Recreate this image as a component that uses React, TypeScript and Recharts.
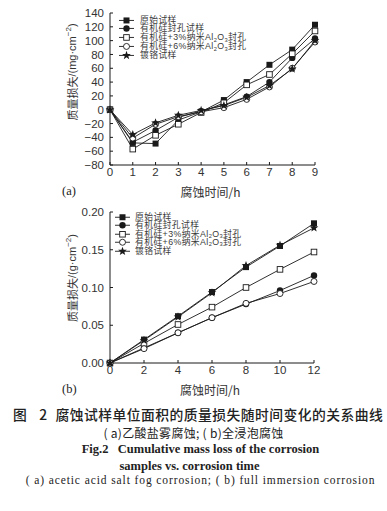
import React from 'react';
import { LineChart, Line, XAxis, YAxis, Legend } from 'recharts';

// ---------- Data ----------
const hoursA = [0, 1, 2, 3, 4, 5, 6, 7, 8, 9];
const originalA = [0, -48, -49, -15, -3, 14, 40, 65, 87, 123];
const siliconeA = [0, -47, -30, -11, -2, 7, 19, 40, 75, 103];
const nano3A = [0, -57, -37, -21, -4, 10, 36, 51, 81, 114];
const nano6A = [0, -41, -21, -10, -3, 3, 15, 33, 60, 98];
const chromeA = [0, -36, -19, -8, -1, 6, 18, 35, 59, 100];
const yTicksA = [-80, -60, -40, -20, 0, 20, 40, 60, 80, 100, 120, 140];

const hoursB = [0, 2, 4, 6, 8, 10, 12];
const originalB = [0, 0.031, 0.062, 0.094, 0.127, 0.155, 0.185];
const siliconeB = [0, 0.02, 0.04, 0.06, 0.078, 0.096, 0.116];
const nano3B = [0, 0.026, 0.051, 0.074, 0.1, 0.124, 0.147];
const nano6B = [0, 0.019, 0.04, 0.06, 0.079, 0.092, 0.108];
const chromeB = [0, 0.03, 0.061, 0.093, 0.129, 0.156, 0.179];
const yTicksB = [0, 0.05, 0.1, 0.15, 0.2];

const seriesNames = ['原始试样', '有机硅封孔试样', '有机硅+3%纳米Al2O3封孔', '有机硅+6%纳米Al2O3封孔', '镀铬试样'];
const seriesKinds = ['fsquare', 'fcircle', 'osquare', 'ocircle', 'star'];
const seriesKeys = ['s0', 's1', 's2', 's3', 's4'];

const dataA = hoursA.map((h, i) => ({
  h,
  s0: originalA[i],
  s1: siliconeA[i],
  s2: nano3A[i],
  s3: nano6A[i],
  s4: chromeA[i],
}));
const dataB = hoursB.map((h, i) => ({
  h,
  s0: originalB[i],
  s1: siliconeB[i],
  s2: nano3B[i],
  s3: nano6B[i],
  s4: chromeB[i],
}));

// ---------- Styling ----------
const INK = '#1a1a1a';
const SANS = '"Liberation Sans", Arial, sans-serif';
const CJK = '"Noto Sans CJK SC", "Liberation Sans", sans-serif';
const LATIN_CJK = '"Liberation Sans", "Noto Sans CJK SC", sans-serif';
const SERIF = '"Liberation Serif", "Times New Roman", serif';

function starPath(cx: number, cy: number, R: number, r: number) {
  let d = '';
  for (let i = 0; i < 10; i++) {
    const a = -Math.PI / 2 + (i * Math.PI) / 5;
    const rad = i % 2 ? r : R;
    d += (i ? 'L' : 'M') + (cx + rad * Math.cos(a)).toFixed(2) + ',' + (cy + rad * Math.sin(a)).toFixed(2);
  }
  return d + 'Z';
}

function Marker({ cx, cy, kind }: { cx: number; cy: number; kind: string }) {
  if (cx == null || cy == null || isNaN(cx) || isNaN(cy)) return null;
  const s = 3;
  switch (kind) {
    case 'fsquare':
      return <rect x={cx - s} y={cy - s} width={2 * s} height={2 * s} fill={INK} />;
    case 'fcircle':
      return <circle cx={cx} cy={cy} r={3.2} fill={INK} />;
    case 'osquare':
      return <rect x={cx - 2.8} y={cy - 2.8} width={5.6} height={5.6} fill="#fff" stroke={INK} strokeWidth={0.9} />;
    case 'ocircle':
      return <circle cx={cx} cy={cy} r={3} fill="#fff" stroke={INK} strokeWidth={0.9} />;
    default:
      return <path d={starPath(cx, cy, 4.6, 1.9)} fill={INK} />;
  }
}

const subStyle: React.CSSProperties = { fontSize: '0.65em', position: 'relative', top: '0.25em', lineHeight: 0 };

function renderName(name: string) {
  const parts = name.split('Al2O3');
  if (parts.length === 1) return name;
  return (
    <>
      {parts[0]}Al<span style={subStyle}>2</span>O<span style={subStyle}>3</span>
      {parts[1]}
    </>
  );
}

function LegendBox({ rowH, gap }: { rowH: number; gap: number }) {
  return (
    <div style={{ display: 'flex', flexDirection: 'column' }}>
      {seriesNames.map((n, i) => (
        <div key={n} style={{ display: 'flex', alignItems: 'center', height: rowH, overflow: 'visible' }}>
          <svg width={15} height={rowH} style={{ display: 'block', overflow: 'visible', flex: 'none' }}>
            <line x1={0} x2={15} y1={rowH / 2} y2={rowH / 2} stroke={INK} strokeWidth={0.9} />
            <Marker cx={7.5} cy={rowH / 2} kind={seriesKinds[i]} />
          </svg>
          <span
            style={{
              marginLeft: gap,
              fontSize: 8.8,
              letterSpacing: 0.4,
              fontFamily: LATIN_CJK,
              color: '#3a3a3a',
              lineHeight: `${rowH}px`,
              height: rowH,
              whiteSpace: 'nowrap',
            }}
          >
            {renderName(n)}
          </span>
        </div>
      ))}
    </div>
  );
}

function YTitle({ cx, cy, unit }: { cx: number; cy: number; unit: string }) {
  return (
    <text
      x={cx}
      y={cy}
      transform={`rotate(-90 ${cx} ${cy})`}
      textAnchor="middle"
      dominantBaseline="central"
      fontSize={11}
      fontFamily={LATIN_CJK}
      fill="#333"
    >
      <tspan fontFamily={CJK}>质量损失</tspan>
      <tspan>/({unit}·cm</tspan>
      <tspan dy={-4} fontSize={8}>
        −2
      </tspan>
      <tspan dy={4}>)</tspan>
    </text>
  );
}

function XTitle({ viewBox, tag, tagX, cy }: any) {
  const { x, width } = viewBox || {};
  return (
    <g>
      <text x={x + width / 2 - 2} y={cy} textAnchor="middle" dominantBaseline="central" fontSize={12} fontFamily={CJK} fill="#333">
        腐蚀时间/h
      </text>
      <text x={tagX} y={cy} textAnchor="start" dominantBaseline="central" fontSize={12.5} fontFamily={SERIF} fill="#222">
        {tag}
      </text>
    </g>
  );
}

function renderLines() {
  return seriesKeys.map((k, i) => (
    <Line
      key={k}
      xAxisId="b"
      yAxisId="l"
      dataKey={k}
      name={seriesNames[i]}
      stroke={INK}
      strokeWidth={0.9}
      isAnimationActive={false}
      dot={(p: any) => <Marker key={`${k}-${p.index}`} cx={p.cx} cy={p.cy} kind={seriesKinds[i]} />}
      activeDot={false}
    />
  ));
}

const tickStyle = { fontSize: 11.5, fontFamily: SANS, fill: '#333' };

export default function App() {
  return (
    <div style={{ position: 'absolute', left: 0, top: 0, width: 387, height: 511, background: '#fff' }}>
      {/* Chart (a) */}
      <div style={{ position: 'absolute', left: 0, top: 0 }}>
        <LineChart width={387} height={200} data={dataA} margin={{ top: 13, right: 72, bottom: 0, left: 0 }}>
          <XAxis
            xAxisId="b"
            dataKey="h"
            type="number"
            domain={[0, 9]}
            ticks={hoursA}
            height={35}
            tickSize={-3}
            tickMargin={6}
            tick={tickStyle}
            axisLine={{ stroke: INK, strokeWidth: 1 }}
            tickLine={{ stroke: INK }}
            label={{ content: (p: any) => <XTitle viewBox={p.viewBox} tag="(a)" tagX={62} cy={191} /> }}
          />
          <XAxis
            xAxisId="t"
            orientation="top"
            type="number"
            domain={[0, 9]}
            height={0}
            tick={false}
            tickLine={false}
            axisLine={{ stroke: '#888', strokeDasharray: '1 1' }}
          />
          <YAxis
            yAxisId="l"
            type="number"
            domain={[-80, 140]}
            ticks={yTicksA}
            width={110}
            tickSize={-3}
            tickMargin={9}
            tick={tickStyle}
            tickFormatter={(v: number) => (v < 0 ? `−${Math.abs(v)}` : `${v}`)}
            axisLine={{ stroke: INK, strokeWidth: 1 }}
            tickLine={{ stroke: INK }}
            interval={0}
            label={{ content: () => <YTitle cx={72} cy={72} unit="mg" /> }}
          />
          <YAxis
            yAxisId="r"
            orientation="right"
            type="number"
            domain={[-80, 140]}
            width={0}
            tick={false}
            tickLine={false}
            axisLine={{ stroke: INK, strokeWidth: 1 }}
          />
          <Legend
            layout="vertical"
            align="center"
            verticalAlign="middle"
            wrapperStyle={{ left: 119, top: 15.5, width: 'auto', height: 'auto' }}
            content={() => <LegendBox rowH={8.9} gap={6} />}
          />
          {renderLines()}
        </LineChart>
      </div>

      {/* Chart (b) */}
      <div style={{ position: 'absolute', left: 0, top: 200 }}>
        <LineChart width={387} height={200} data={dataB} margin={{ top: 12, right: 73, bottom: 0, left: 0 }}>
          <XAxis
            xAxisId="b"
            dataKey="h"
            type="number"
            domain={[0, 12]}
            ticks={hoursB}
            height={37}
            tickSize={-3}
            tickMargin={6}
            tick={tickStyle}
            axisLine={{ stroke: INK, strokeWidth: 1 }}
            tickLine={{ stroke: INK }}
            label={{ content: (p: any) => <XTitle viewBox={p.viewBox} tag="(b)" tagX={62} cy={189} /> }}
          />
          <XAxis
            xAxisId="t"
            orientation="top"
            type="number"
            domain={[0, 12]}
            height={0}
            tick={false}
            tickLine={false}
            axisLine={{ stroke: '#888', strokeDasharray: '1 1' }}
          />
          <YAxis
            yAxisId="l"
            type="number"
            domain={[0, 0.2]}
            ticks={yTicksB}
            width={110}
            tickSize={-3}
            tickMargin={9}
            tick={tickStyle}
            tickFormatter={(v: number) => v.toFixed(2)}
            axisLine={{ stroke: INK, strokeWidth: 1 }}
            tickLine={{ stroke: INK }}
            interval={0}
            label={{ content: () => <YTitle cx={72} cy={78} unit="g" /> }}
          />
          <YAxis
            yAxisId="r"
            orientation="right"
            type="number"
            domain={[0, 0.2]}
            width={0}
            tick={false}
            tickLine={false}
            axisLine={{ stroke: INK, strokeWidth: 1 }}
          />
          <Legend
            layout="vertical"
            align="center"
            verticalAlign="middle"
            wrapperStyle={{ left: 115, top: 12.5, width: 'auto', height: 'auto' }}
            content={() => <LegendBox rowH={8.5} gap={5} />}
          />
          {renderLines()}
        </LineChart>
      </div>

      {/* Caption */}
      <div style={{ position: 'absolute', left: 0, top: 406, width: 387, color: '#222' }}>
        <div style={{ position: 'absolute', left: 13, top: 0, fontFamily: CJK, fontSize: 13.8, lineHeight: '17px', whiteSpace: 'nowrap', letterSpacing: 0.45, fontWeight: 500 }}>
          <span>图</span>
          <span style={{ marginLeft: 12 }}>2</span>
          <span style={{ marginLeft: 8 }}>腐蚀试样单位面积的质量损失随时间变化的关系曲线</span>
        </div>
        <div style={{ position: 'absolute', left: 0, width: 387, top: 20, textAlign: 'center', fontFamily: CJK, fontSize: 12, lineHeight: '14px', whiteSpace: 'pre', letterSpacing: 0.3 }}>
          ( a)乙酸盐雾腐蚀; ( b)全浸泡腐蚀
        </div>
        <div style={{ position: 'absolute', left: 7, width: 387, top: 35, textAlign: 'center', fontFamily: SERIF, fontSize: 12.5, fontWeight: 'bold', lineHeight: '16px', whiteSpace: 'pre' }}>
          Fig.2   Cumulative mass loss of the corrosion
        </div>
        <div style={{ position: 'absolute', left: -4, width: 387, top: 52, textAlign: 'center', fontFamily: SERIF, fontSize: 12.5, fontWeight: 'bold', lineHeight: '16px', whiteSpace: 'nowrap' }}>
          samples vs. corrosion time
        </div>
        <div style={{ position: 'absolute', left: 7, width: 387, top: 67, textAlign: 'center', fontFamily: SERIF, fontSize: 11.5, letterSpacing: 0.9, lineHeight: '14px', whiteSpace: 'nowrap' }}>
          ( a) acetic acid salt fog corrosion; ( b) full immersion corrosion
        </div>
      </div>
    </div>
  );
}
